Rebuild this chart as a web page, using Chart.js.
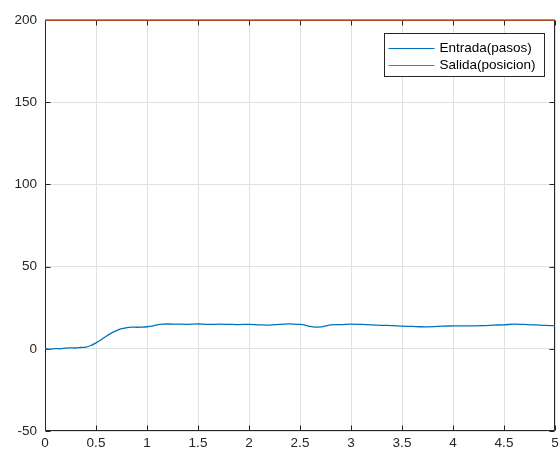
<!DOCTYPE html>
<html>
<head>
<meta charset="utf-8">
<script src="https://cdn.jsdelivr.net/npm/chart.js@4/dist/chart.umd.min.js"></script>
<style>
  html, body { margin: 0; padding: 0; background: #ffffff; }
  #wrap { width: 560px; height: 454px; position: relative; }
</style>
</head>
<body>
<div id="wrap"><canvas id="c" width="560" height="454"></canvas></div>
<script>
// Time axis (s) and step input response
const entradaX = [0, 0.05, 0.1, 0.15, 0.2, 0.25, 0.3, 0.35, 0.4, 0.45, 0.5, 0.55, 0.6, 0.65, 0.7, 0.75, 0.8, 0.85, 0.9, 0.95, 1.0, 1.05, 1.1, 1.15, 1.2,
  1.3, 1.4, 1.5, 1.6, 1.7, 1.8, 1.9, 2.0, 2.1, 2.2, 2.3, 2.4, 2.5,
  2.55, 2.6, 2.65, 2.7, 2.75,
  2.8, 2.9, 3.0, 3.1, 3.2, 3.3, 3.4, 3.5, 3.6, 3.7, 3.8, 3.9, 4.0, 4.1, 4.2, 4.3, 4.4, 4.5, 4.6, 4.7, 4.8, 4.9, 5.0];
const entradaY = [0, -0.2, 0.1, 0, 0.4, 0.6, 0.5, 0.8, 1.0, 2.0, 3.6, 5.5, 7.6, 9.5, 11.0, 12.2, 12.8, 13.2, 13.1, 13.2, 13.4, 13.8, 14.6, 15.0, 15.1,
  15.0, 14.9, 15.1, 14.8, 15.0, 14.9, 14.7, 14.9, 14.6, 14.4, 14.8, 15.2, 14.8,
  14.4, 13.6, 13.2, 13.3, 13.9,
  14.5, 14.7, 15.0, 14.8, 14.6, 14.3, 14.1, 13.8, 13.6, 13.4, 13.5, 13.8, 13.9, 14.0, 14.0, 14.1, 14.4, 14.6, 15.0, 14.8, 14.6, 14.2, 14.0];

// Output position (constant)
const salidaX = [0, 5];
const salidaY = [200, 200];

const seriesNames = ['Entrada(pasos)', 'Salida(posicion)'];
const xTicks = [0, 0.5, 1, 1.5, 2, 2.5, 3, 3.5, 4, 4.5, 5];
const yTicks = [-50, 0, 50, 100, 150, 200];

const FONT = "'Liberation Sans', Arial, Helvetica, sans-serif";
const AXIS_COLOR = '#262626';
const BLUE = '#0072BD';
const ORANGE = '#D95319';

const toPoints = (xs, ys) => xs.map((x, i) => ({ x: x, y: ys[i] }));

// Axes box with inward tick marks on all four sides
const boxPlugin = {
  id: 'axesBox',
  beforeDatasetsDraw(chart) {
    const { ctx, chartArea: a, scales } = chart;
    const L = Math.round(a.left) + 0.5, R = Math.round(a.right) - 0.5;
    const T = Math.round(a.top) + 0.5, B = Math.round(a.bottom) - 0.5;
    const len = 5;
    ctx.save();
    ctx.strokeStyle = AXIS_COLOR;
    ctx.lineWidth = 1;
    ctx.beginPath();
    ctx.rect(L, T, R - L, B - T);
    xTicks.forEach(v => {
      const px = Math.round(scales.x.getPixelForValue(v)) + 0.5;
      ctx.moveTo(px, B); ctx.lineTo(px, B - len);
      ctx.moveTo(px, T); ctx.lineTo(px, T + len);
    });
    yTicks.forEach(v => {
      const py = Math.round(scales.y.getPixelForValue(v)) + 0.5;
      ctx.moveTo(L, py); ctx.lineTo(L + len, py);
      ctx.moveTo(R, py); ctx.lineTo(R - len, py);
    });
    ctx.stroke();
    ctx.restore();
  }
};

// Legend box placed inside the upper-right corner of the axes
const insetLegend = {
  id: 'insetLegend',
  afterDatasetsDraw(chart) {
    const { ctx, chartArea: a } = chart;
    const w = 160, h = 43;
    const x0 = Math.round(a.right - 11 - w) + 0.5;
    const y0 = Math.round(a.top + 13) + 0.5;
    ctx.save();
    ctx.fillStyle = '#ffffff';
    ctx.fillRect(x0, y0, w, h);
    ctx.strokeStyle = AXIS_COLOR;
    ctx.lineWidth = 1;
    ctx.strokeRect(x0, y0, w, h);
    ctx.font = '13.5px ' + FONT;
    ctx.textBaseline = 'middle';
    chart.data.datasets.forEach((ds, i) => {
      const cy = y0 + 15 + i * 17;
      ctx.strokeStyle = ds.borderColor;
      ctx.lineWidth = 1.2;
      ctx.beginPath();
      ctx.moveTo(x0 + 4, cy);
      ctx.lineTo(x0 + 50, cy);
      ctx.stroke();
      ctx.fillStyle = '#000000';
      ctx.fillText(ds.label, x0 + 55, cy);
    });
    ctx.restore();
  }
};

new Chart(document.getElementById('c'), {
  type: 'line',
  data: {
    datasets: [
      {
        label: seriesNames[0],
        data: toPoints(entradaX, entradaY),
        borderColor: BLUE,
        borderWidth: 1.3,
        pointRadius: 0,
        tension: 0.3,
        fill: false
      },
      {
        label: seriesNames[1],
        data: toPoints(salidaX, salidaY),
        borderColor: ORANGE,
        borderWidth: 1.6,
        pointRadius: 0,
        clip: 3,
        fill: false
      }
    ]
  },
  options: {
    responsive: false,
    animation: false,
    layout: { padding: { top: 20, right: 5, left: 0, bottom: 0 } },
    plugins: {
      legend: { display: false },
      tooltip: { enabled: false }
    },
    scales: {
      x: {
        type: 'linear',
        min: 0,
        max: 5,
        afterBuildTicks: s => { s.ticks = xTicks.map(v => ({ value: v })); },
        afterFit: s => { s.height = 23; s.paddingRight = 0; s.paddingLeft = 0; },
        border: { display: false },
        grid: { color: '#e0e0e0', lineWidth: 1, drawTicks: false },
        ticks: {
          padding: 4,
          color: AXIS_COLOR,
          font: { family: FONT, size: 13.5 },
          maxRotation: 0,
          callback: v => String(v)
        }
      },
      y: {
        type: 'linear',
        min: -50,
        max: 200,
        afterBuildTicks: s => { s.ticks = yTicks.map(v => ({ value: v })); },
        afterFit: s => { s.width = 45; },
        border: { display: false },
        grid: { color: '#e0e0e0', lineWidth: 1, drawTicks: false },
        ticks: {
          padding: 8,
          color: AXIS_COLOR,
          font: { family: FONT, size: 13.5 },
          callback: v => String(v)
        }
      }
    }
  },
  plugins: [boxPlugin, insetLegend]
});
</script>
</body>
</html>
